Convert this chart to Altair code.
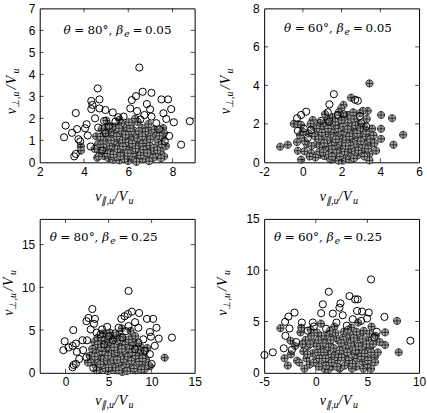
import altair as alt
import pandas as pd

W, H = 156, 155
SANS = "Liberation Sans"
SERIF = "Liberation Serif"
TSERIF = "DejaVu Serif"

# ---------------- data: (v_par, v_perp) per panel ----------------
p1_open = [(6.50, 4.31), (4.62, 3.36), (3.63, 2.24), (3.17, 1.67), (3.10, 1.14), (3.46, 1.34),
           (3.69, 1.51), (4.12, 1.73), (4.17, 1.22), (4.33, 2.79), (4.38, 2.61), (4.70, 2.86),
           (4.33, 2.42), (4.70, 2.45), (4.50, 2.00), (4.97, 2.38), (5.30, 2.27), (4.91, 1.88),
           (4.64, 1.58), (4.30, 0.72), (3.83, 0.95), (3.56, 0.27), (3.63, 0.38), (5.79, 2.08),
           (6.09, 2.45), (6.16, 2.83), (6.35, 3.01), (6.65, 3.21), (7.05, 3.16), (7.50, 2.86),
           (7.80, 2.86), (7.94, 2.42), (7.59, 2.23), (8.06, 1.82), (8.78, 1.87), (6.84, 2.65),
           (6.99, 2.41), (7.05, 2.08), (6.73, 2.15), (6.40, 2.33), (7.72, 1.97), (7.27, 1.78),
           (8.39, 0.80), (7.65, 0.95), (5.12, 1.63), (5.42, 1.85), (4.97, 1.33), (4.82, 0.53),
           (3.75, 1.05), (4.05, 1.55), (5.55, 2.05), (6.55, 1.95), (7.40, 1.50), (7.85, 1.20)]
p1_cross = [(4.55, 1.18), (4.63, 0.82), (4.71, 0.44), (4.80, 1.52), (4.86, 0.97), (4.92, 0.28),
            (4.98, 1.31), (5.03, 0.66), (5.07, 1.72), (5.11, 0.19), (5.14, 1.04), (5.19, 0.47),
            (5.23, 1.43), (5.26, 0.81), (5.31, 0.12), (5.34, 1.22), (5.39, 0.57), (5.41, 1.63),
            (5.46, 0.93), (5.49, 0.31), (5.53, 1.36), (5.57, 0.72), (5.60, 0.09), (5.63, 1.11),
            (5.66, 0.46), (5.69, 1.78), (5.72, 0.86), (5.76, 0.22), (5.79, 1.47), (5.82, 0.62),
            (5.86, 1.06), (5.89, 0.36), (5.92, 1.58), (5.96, 0.77), (5.99, 0.06), (6.02, 1.27),
            (6.06, 0.51), (6.09, 0.96), (6.12, 1.69), (6.16, 0.26), (6.19, 1.16), (6.22, 0.66),
            (6.26, 1.44), (6.29, 0.11), (6.32, 0.87), (6.36, 0.41), (6.39, 1.29), (6.43, 1.84),
            (6.47, 0.71), (6.51, 0.21), (6.54, 1.06), (6.59, 0.52), (6.62, 1.56), (6.66, 0.86),
            (6.71, 0.31), (6.74, 1.24), (6.79, 0.61), (6.84, 1.01), (6.89, 0.16), (6.93, 1.46),
            (6.97, 0.76), (7.03, 0.41), (7.09, 1.14), (7.16, 0.66), (7.23, 0.26), (7.29, 1.36),
            (7.36, 0.91), (7.46, 0.51), (7.56, 1.11), (7.70, 0.74), (7.58, 1.56), (4.48, 0.61),
            (4.60, 0.21), (3.86, 0.72), (3.86, 0.53), (4.75, 1.17), (4.67, 0.27), (7.62, 1.33),
            (7.62, 0.27), (5.61, 1.94), (6.31, 1.99), (6.91, 1.74), (5.01, 1.90), (5.45, 0.50),
            (5.85, 0.85), (6.05, 0.30), (6.25, 1.00), (5.70, 1.30), (6.45, 0.45), (5.95, 1.45),
            (5.35, 0.95), (6.65, 0.15), (5.15, 0.75), (5.05, 0.40), (5.22, 1.00), (5.37, 0.25),
            (5.52, 0.60), (5.58, 1.55), (5.74, 1.02), (5.83, 0.15), (5.91, 0.55), (6.01, 0.90),
            (6.14, 1.40), (6.21, 0.40), (6.33, 0.62), (6.41, 1.10), (6.56, 0.32), (6.68, 0.58),
            (6.77, 1.40), (6.86, 0.42), (7.00, 1.05), (7.12, 0.20), (7.19, 1.50), (7.32, 0.55),
            (7.41, 1.20), (5.28, 1.62), (5.64, 0.28), (6.08, 1.55), (6.48, 1.42), (6.95, 0.05),
            (5.48, 1.18), (5.98, 0.42), (6.37, 0.02), (5.76, 0.72), (6.18, 0.85), (6.63, 1.18),
            (5.15, 1.55), (4.88, 0.68), (7.48, 0.18), (7.52, 0.82), (6.03, 1.82), (5.33, 0.36),
            (5.88, 1.25)]

p2_open = [(1.60, 3.54), (2.84, 3.20), (2.70, 3.25), (1.37, 3.01), (1.29, 2.60), (0.17, 2.63),
           (-0.09, 2.46), (-0.30, 2.29), (-0.26, 1.64), (2.94, 2.41), (3.01, 2.03), (3.27, 1.86),
           (0.94, 2.15), (1.37, 2.12), (0.43, 1.69), (0.25, 1.26), (1.80, 2.46), (2.10, 2.50),
           (0.05, 1.75)]
p2_cross = [(3.44, 4.10), (2.49, 3.36), (2.10, 2.98), (-0.47, 2.00), (-0.26, 1.98), (-0.09, 1.94),
            (-1.17, 0.81), (-0.78, 0.91), (-0.30, 1.05), (-0.26, 0.60), (-0.09, 0.14), (4.04, 2.46),
            (4.61, 2.29), (4.04, 1.74), (5.18, 1.43), (4.04, 1.22), (4.68, 0.91), (3.78, 0.60),
            (3.44, 0.43), (3.44, 0.10), (3.52, 0.95), (3.35, 2.67), (3.09, 2.67), (0.51, 2.20),
            (1.98, 2.81), (2.32, 2.46), (0.08, 0.57), (0.43, 0.48), (0.91, 0.40), (1.46, 0.14),
            (2.06, 0.09), (0.55, 1.85), (0.62, 1.35), (0.70, 0.95), (0.78, 1.62), (0.85, 0.55),
            (0.90, 2.05), (0.96, 1.18), (1.02, 0.78), (1.08, 1.88), (1.12, 0.32), (1.17, 1.45),
            (1.22, 0.98), (1.27, 2.20), (1.31, 0.62), (1.36, 1.70), (1.40, 0.18), (1.45, 1.25),
            (1.49, 0.85), (1.53, 2.35), (1.57, 0.45), (1.61, 1.55), (1.65, 1.05), (1.69, 0.25),
            (1.73, 1.92), (1.77, 0.70), (1.81, 1.35), (1.85, 0.08), (1.89, 2.15), (1.93, 0.95),
            (1.97, 1.60), (2.01, 0.40), (2.05, 1.20), (2.09, 2.40), (2.13, 0.72), (2.17, 1.78),
            (2.21, 0.22), (2.25, 1.42), (2.29, 0.92), (2.33, 2.05), (2.37, 0.52), (2.41, 1.62),
            (2.45, 1.10), (2.49, 0.30), (2.53, 1.88), (2.57, 0.80), (2.61, 1.38), (2.65, 2.25),
            (2.69, 0.58), (2.73, 1.05), (2.77, 1.70), (2.81, 0.35), (2.85, 1.25), (2.90, 2.00),
            (2.95, 0.85), (3.00, 1.52), (3.05, 0.50), (3.10, 1.15), (3.15, 1.85), (3.20, 0.75),
            (3.25, 1.35), (3.32, 0.95), (3.40, 1.60), (3.48, 1.20), (3.58, 1.75), (3.65, 1.40),
            (0.30, 1.50), (0.20, 0.95), (0.40, 2.00), (-0.15, 1.40), (0.10, 1.10), (0.45, 0.85),
            (0.65, 0.25), (1.15, 2.50), (1.85, 2.60), (2.60, 2.60), (2.95, 2.55), (3.30, 2.25),
            (3.70, 1.00), (0.00, 1.60), (0.35, 0.30), (0.82, 1.20), (0.98, 1.55), (1.05, 0.52),
            (1.18, 2.05), (1.25, 1.15), (1.33, 0.40), (1.42, 1.88), (1.51, 0.68), (1.59, 1.30),
            (1.67, 2.10), (1.75, 0.48), (1.83, 1.75), (1.91, 0.30), (1.99, 1.05), (2.07, 1.85),
            (2.15, 0.55), (2.23, 1.15), (2.31, 1.72), (2.39, 0.15), (2.47, 0.88), (2.55, 1.45),
            (2.63, 0.20), (2.71, 1.92), (2.79, 0.95), (2.87, 0.62), (2.97, 1.78), (3.07, 0.90),
            (3.17, 0.30), (3.27, 1.62), (3.37, 0.70), (1.10, 1.00), (1.50, 0.30), (2.00, 2.20),
            (2.40, 1.35), (2.80, 1.50), (1.70, 1.20), (2.20, 0.85), (1.30, 1.75), (3.00, 1.10),
            (0.70, 1.75)]

p3_open = [(7.32, 9.58), (3.11, 7.46), (0.90, 5.00), (-0.10, 3.69), (-0.25, 2.65), (0.36, 2.96),
           (0.82, 3.15), (1.20, 3.42), (1.97, 3.81), (1.32, 2.46), (2.04, 2.65), (2.43, 6.04),
           (2.66, 6.42), (3.42, 6.31), (3.30, 5.73), (2.92, 5.08), (4.83, 5.38), (4.07, 4.50),
           (1.59, 1.62), (0.94, 0.92), (0.82, 0.65), (1.20, 1.04), (3.23, 0.58), (2.43, 1.81),
           (6.48, 6.31), (6.86, 6.62), (7.24, 6.88), (7.70, 7.15), (8.54, 7.00), (9.46, 6.31),
           (10.18, 6.31), (8.08, 5.92), (8.46, 5.27), (10.57, 5.27), (9.80, 4.77), (9.04, 3.92),
           (9.92, 4.23), (10.83, 4.00), (12.36, 4.12), (10.37, 3.15), (9.80, 2.19), (10.00, 1.04),
           (7.32, 5.46), (7.01, 4.88), (6.17, 5.27), (5.79, 4.62), (5.02, 4.23), (4.26, 5.08),
           (8.46, 3.54), (8.08, 2.77), (9.23, 2.58), (3.60, 4.70), (5.50, 3.80), (6.60, 4.10),
           (4.50, 3.30), (2.50, 3.80)]
p3_cross = [(11.52, 1.77), (9.80, 0.77), (3.10, 2.80), (3.25, 1.60), (3.35, 3.60), (3.45, 0.90),
            (3.55, 2.30), (3.70, 4.10), (3.80, 1.20), (3.90, 3.10), (4.00, 0.40), (4.10, 2.00),
            (4.20, 3.80), (4.30, 1.50), (4.40, 2.70), (4.50, 0.80), (4.60, 3.40), (4.70, 1.90),
            (4.80, 4.30), (4.90, 0.20), (5.00, 2.50), (5.10, 1.10), (5.20, 3.20), (5.30, 1.70),
            (5.40, 0.60), (5.50, 2.90), (5.60, 4.00), (5.70, 1.30), (5.80, 2.20), (5.90, 0.30),
            (6.00, 3.50), (6.10, 1.80), (6.20, 0.90), (6.30, 2.60), (6.40, 4.20), (6.50, 1.40),
            (6.60, 0.10), (6.70, 3.00), (6.80, 2.00), (6.90, 0.70), (7.00, 3.70), (7.10, 1.50),
            (7.20, 2.50), (7.30, 0.40), (7.40, 3.20), (7.50, 1.10), (7.60, 2.10), (7.70, 4.00),
            (7.80, 0.80), (7.90, 2.80), (8.00, 1.60), (8.10, 0.30), (8.20, 3.40), (8.30, 1.20),
            (8.40, 2.30), (8.50, 0.60), (8.60, 1.90), (8.75, 3.00), (8.90, 1.00), (9.05, 2.20),
            (9.20, 0.40), (9.35, 1.60), (9.50, 2.90), (9.65, 0.90), (3.60, 0.30), (4.35, 4.60),
            (5.15, 4.70), (5.95, 4.40), (6.55, 5.20), (7.55, 4.90), (2.80, 2.00), (2.60, 1.20),
            (8.10, 4.30), (4.75, 3.00), (5.45, 2.00), (6.25, 3.00), (7.05, 1.00), (6.85, 2.70),
            (5.65, 0.90), (4.45, 1.60), (8.65, 2.60), (3.95, 2.40), (3.40, 1.90), (3.75, 3.30),
            (4.05, 1.00), (4.25, 2.50), (4.55, 3.80), (4.65, 0.50), (4.85, 1.40), (5.05, 3.60),
            (5.25, 0.90), (5.35, 2.20), (5.55, 1.50), (5.75, 3.30), (5.85, 0.60), (6.05, 2.40),
            (6.15, 1.20), (6.35, 3.80), (6.45, 0.50), (6.65, 2.20), (6.75, 1.60), (6.95, 3.30),
            (7.15, 0.20), (7.25, 1.90), (7.45, 2.80), (7.65, 1.40), (7.85, 3.60), (7.95, 0.50),
            (8.15, 2.00), (8.35, 2.70), (8.55, 1.30), (8.80, 0.40), (4.15, 3.00), (5.65, 3.00),
            (6.55, 2.80), (7.35, 3.90), (5.00, 0.60), (6.20, 0.30), (8.95, 1.70), (4.95, 2.00),
            (7.75, 2.40), (6.00, 1.50)]

p4_open = [(5.35, 9.10), (1.26, 7.90), (3.26, 7.48), (3.81, 7.16), (4.06, 7.16), (2.39, 6.77),
           (2.29, 6.35), (0.68, 6.68), (0.52, 5.81), (1.65, 5.77), (2.61, 5.61), (4.00, 6.03),
           (4.48, 5.97), (5.13, 5.87), (-2.06, 5.87), (-2.65, 5.48), (-2.97, 4.97), (-2.55, 4.32),
           (-2.94, 3.61), (-3.10, 2.39), (-2.32, 2.23), (-4.16, 2.00), (-4.97, 1.74), (-1.35, 4.90),
           (-0.29, 4.90), (-0.19, 4.52), (-0.77, 4.10), (6.65, 5.45), (5.68, 3.45), (9.16, 3.13),
           (4.39, 5.06), (3.58, 5.23), (4.97, 5.29), (3.00, 4.60), (1.00, 4.30), (-1.90, 3.00),
           (5.90, 4.00), (2.00, 4.90)]
p4_cross = [(-3.42, 4.35), (-2.45, 3.13), (-3.03, 1.42), (-2.71, 0.71), (-1.81, 1.19), (-1.48, 3.94),
            (7.87, 5.06), (6.71, 3.94), (6.71, 2.71), (8.03, 2.00), (5.71, 1.52), (5.35, 0.39),
            (5.74, 1.03), (0.84, 0.39), (2.29, 0.39), (-1.20, 2.10), (-1.00, 3.20), (-0.90, 1.40),
            (-0.75, 2.60), (-0.60, 0.80), (-0.45, 3.60), (-0.30, 1.90), (-0.15, 2.90), (0.00, 1.20),
            (0.15, 3.90), (0.30, 0.60), (0.45, 2.40), (0.60, 1.70), (0.75, 3.30), (0.90, 1.00),
            (1.05, 2.20), (1.20, 0.30), (1.35, 2.80), (1.50, 1.50), (1.65, 3.70), (1.80, 0.80),
            (1.95, 2.00), (2.10, 1.20), (2.25, 3.10), (2.40, 0.50), (2.55, 2.50), (2.70, 4.00),
            (2.85, 1.60), (3.00, 0.90), (3.15, 3.00), (3.30, 2.10), (3.45, 4.40), (3.60, 1.30),
            (3.75, 2.70), (3.90, 0.60), (4.05, 3.50), (4.20, 1.90), (4.35, 2.90), (4.50, 1.10),
            (4.65, 4.10), (4.80, 2.30), (4.95, 1.50), (5.10, 3.20), (5.25, 2.40), (5.40, 4.50),
            (5.55, 2.80), (5.80, 3.60), (6.00, 2.00), (6.20, 3.00), (-1.60, 1.00), (-2.00, 2.60),
            (-2.40, 1.80), (-1.40, 4.40), (0.50, 4.80), (1.80, 4.50), (4.10, 4.90), (0.20, 2.00),
            (2.00, 3.40), (3.30, 3.70), (1.20, 1.80), (2.90, 2.40), (3.80, 1.80), (4.60, 0.40),
            (1.60, 0.60), (0.70, 2.90), (2.20, 1.80), (3.50, 0.40), (4.30, 3.80), (-0.50, 4.20),
            (5.00, 0.80), (2.60, 3.40), (1.00, 3.60), (-1.10, 0.40), (-0.80, 1.80), (-0.55, 2.80),
            (-0.20, 1.00), (0.10, 2.60), (0.35, 1.40), (0.55, 3.60), (0.80, 2.00), (1.00, 0.70),
            (1.25, 2.50), (1.45, 3.20), (1.55, 1.00), (1.75, 2.40), (1.90, 3.90), (2.05, 0.60),
            (2.30, 2.20), (2.50, 1.50), (2.65, 3.20), (2.80, 0.70), (3.05, 2.00), (3.20, 1.20),
            (3.40, 2.90), (3.55, 0.90), (3.70, 3.40), (3.85, 2.20), (4.00, 1.40), (4.15, 2.60),
            (4.40, 1.60), (4.55, 3.30), (4.75, 1.90), (4.90, 2.80), (5.05, 1.20), (5.20, 3.80),
            (5.35, 2.00), (0.95, 1.40), (2.45, 2.90), (3.95, 4.00), (1.35, 4.10), (3.10, 4.20),
            (0.25, 3.20), (-1.30, 2.80)]

# axis domains and tick values
p1_xdom, p1_ydom, p1_xt, p1_yt = [2, 9], [0, 7], [2, 4, 6, 8], [0, 1, 2, 3, 4, 5, 6, 7]
p2_xdom, p2_ydom, p2_xt, p2_yt = [-2, 6], [0, 8], [-2, 0, 2, 4, 6], [0, 2, 4, 6, 8]
p3_xdom, p3_ydom, p3_xt, p3_yt = [-3, 15], [0, 18], [0, 5, 10, 15], [0, 5, 10, 15]
p4_xdom, p4_ydom, p4_xt, p4_yt = [-5, 10], [0, 15], [-5, 0, 5, 10], [0, 5, 10, 15]

panel_angles = ["80°,", "60°,", "80°,", "60°,"]
panel_betas = ["0.05", "0.05", "0.25", "0.25"]

# circle with a plus inside, in unit symbol coordinates
CROSSED = "M -1 0 A 1 1 0 1 1 1 0 A 1 1 0 1 1 -1 0 Z M -1 0 L 1 0 M 0 -1 L 0 1"
ONE = alt.Data(values=[{"k": 0}])


def piece(text, x, y, size, italic=False, angle=0, font=SERIF):
    return alt.Chart(ONE).mark_text(
        text=text, align="left", baseline="alphabetic", fontSize=size,
        fontStyle="italic" if italic else "normal", font=font, angle=angle,
        color="black",
    ).encode(x=alt.value(x), y=alt.value(y))


def panel(open_pts, cross_pts, xdom, ydom, xt, yt, ang, beta, tl, tb, ytb, ymid, bx,
          anchor=False):
    xs = alt.Scale(domain=xdom, nice=False, zero=False)
    ys = alt.Scale(domain=ydom, nice=False, zero=False)
    common = dict(title=None, grid=False, ticks=False, domain=False, labelFont=SANS,
                  labelFontSize=12, labelColor="black", labelFlush=False,
                  labelOverlap=False, labelExpr="'' + datum.value")
    xax = alt.Axis(values=xt, labelPadding=4, **common)
    yax = alt.Axis(values=yt, labelPadding=5, **common)

    df_open = pd.DataFrame(open_pts, columns=["u", "w"])
    df_cross = pd.DataFrame(cross_pts, columns=["u", "w"])

    layers = []
    layers.append(
        alt.Chart(df_cross).mark_point(shape=CROSSED, filled=True, size=52, fill="#a3a3a3",
                                       stroke="#141414", strokeWidth=0.8, opacity=1)
        .encode(x=alt.X("u:Q", scale=xs, axis=xax), y=alt.Y("w:Q", scale=ys, axis=yax))
    )
    layers.append(
        alt.Chart(df_open).mark_point(shape="circle", filled=False, size=52,
                                      strokeWidth=1.0, color="black", opacity=1)
        .encode(x=alt.X("u:Q", scale=xs, axis=xax), y=alt.Y("w:Q", scale=ys, axis=yax))
    )

    # inward tick marks on all four sides
    tx = pd.DataFrame({"u": [v for v in xt if xdom[0] < v < xdom[1]]})
    ty = pd.DataFrame({"w": [v for v in yt if ydom[0] < v < ydom[1]]})
    for yy in (H - 2, 2):
        layers.append(alt.Chart(tx).mark_tick(size=4, thickness=1, color="black")
                      .encode(x=alt.X("u:Q", scale=xs, axis=xax), y=alt.value(yy)))
    for xx in (2, W - 2):
        layers.append(alt.Chart(ty).mark_tick(size=4, thickness=1, color="black")
                      .encode(y=alt.Y("w:Q", scale=ys, axis=yax), x=alt.value(xx)))

    # in-panel annotation: theta = .., beta_e = ..
    layers += [
        piece("θ", tl, tb, 12, True, font=TSERIF),
        piece("=", tl + 10.7, tb, 12, font=TSERIF),
        piece(ang, tl + 24, tb, 12, font=TSERIF),
        piece("β", tl + 53, tb, 12, True, font=TSERIF),
        piece("e", tl + 61, tb + 3, 9, True, font=TSERIF),
        piece("=", tl + 69.4, tb, 12, font=TSERIF),
        piece(beta, tl + 82, tb, 12, font=TSERIF),
    ]

    # x-axis title  v_{||,u} / V_u
    s = W / 2 - 22
    layers += [
        piece("v", s, bx, 14, True),
        piece("∥,u", s + 6.2, bx + 3, 10, True),
        piece("/", s + 19, bx, 14, True),
        piece("V", s + 23.5, bx, 14, True),
        piece("u", s + 33.5, bx + 3, 10, True),
    ]

    # y-axis title  v_{perp,u} / V_u  (rotated, reading upward)
    st = H / 2 + ymid + 25
    layers += [
        piece("v", ytb, st, 14, True, angle=270),
        piece("⊥,u", ytb + 3, st - 6.2, 10, True, angle=270),
        piece("/", ytb, st - 25, 14, True, angle=270),
        piece("V", ytb, st - 30, 14, True, angle=270),
        piece("u", ytb + 3, st - 41, 10, True, angle=270),
    ]

    if anchor:
        layers.append(alt.Chart(ONE).mark_rule(strokeWidth=0.1, opacity=0)
                      .encode(x=alt.value(-39), x2=alt.value(-39),
                              y=alt.value(-6), y2=alt.value(0)))

    return alt.layer(*layers).properties(width=W, height=H)


c1 = panel(p1_open, p1_cross, p1_xdom, p1_ydom, p1_xt, p1_yt,
           panel_angles[0], panel_betas[0], 24, 25.5, -24, 4, H + 39, anchor=True)
c2 = panel(p2_open, p2_cross, p2_xdom, p2_ydom, p2_xt, p2_yt,
           panel_angles[1], panel_betas[1], 20, 24, -34, 4, H + 39)
c3 = panel(p3_open, p3_cross, p3_xdom, p3_ydom, p3_xt, p3_yt,
           panel_angles[2], panel_betas[2], 10, 22, -27, -5, H + 32)
c4 = panel(p4_open, p4_cross, p4_xdom, p4_ydom, p4_xt, p4_yt,
           panel_angles[3], panel_betas[3], 10, 22, -37, -5, H + 32)

chart = (
    alt.concat(c1, c2, c3, c4, columns=2, spacing={"row": 57, "column": 70}, bounds="flush")
    .properties(padding={"left": 0, "top": 0, "right": 0, "bottom": 0}, background="white")
    .configure_view(stroke="black", strokeWidth=1)
)

chart.save("out.html", embed_options={"renderer": "svg", "actions": False})
